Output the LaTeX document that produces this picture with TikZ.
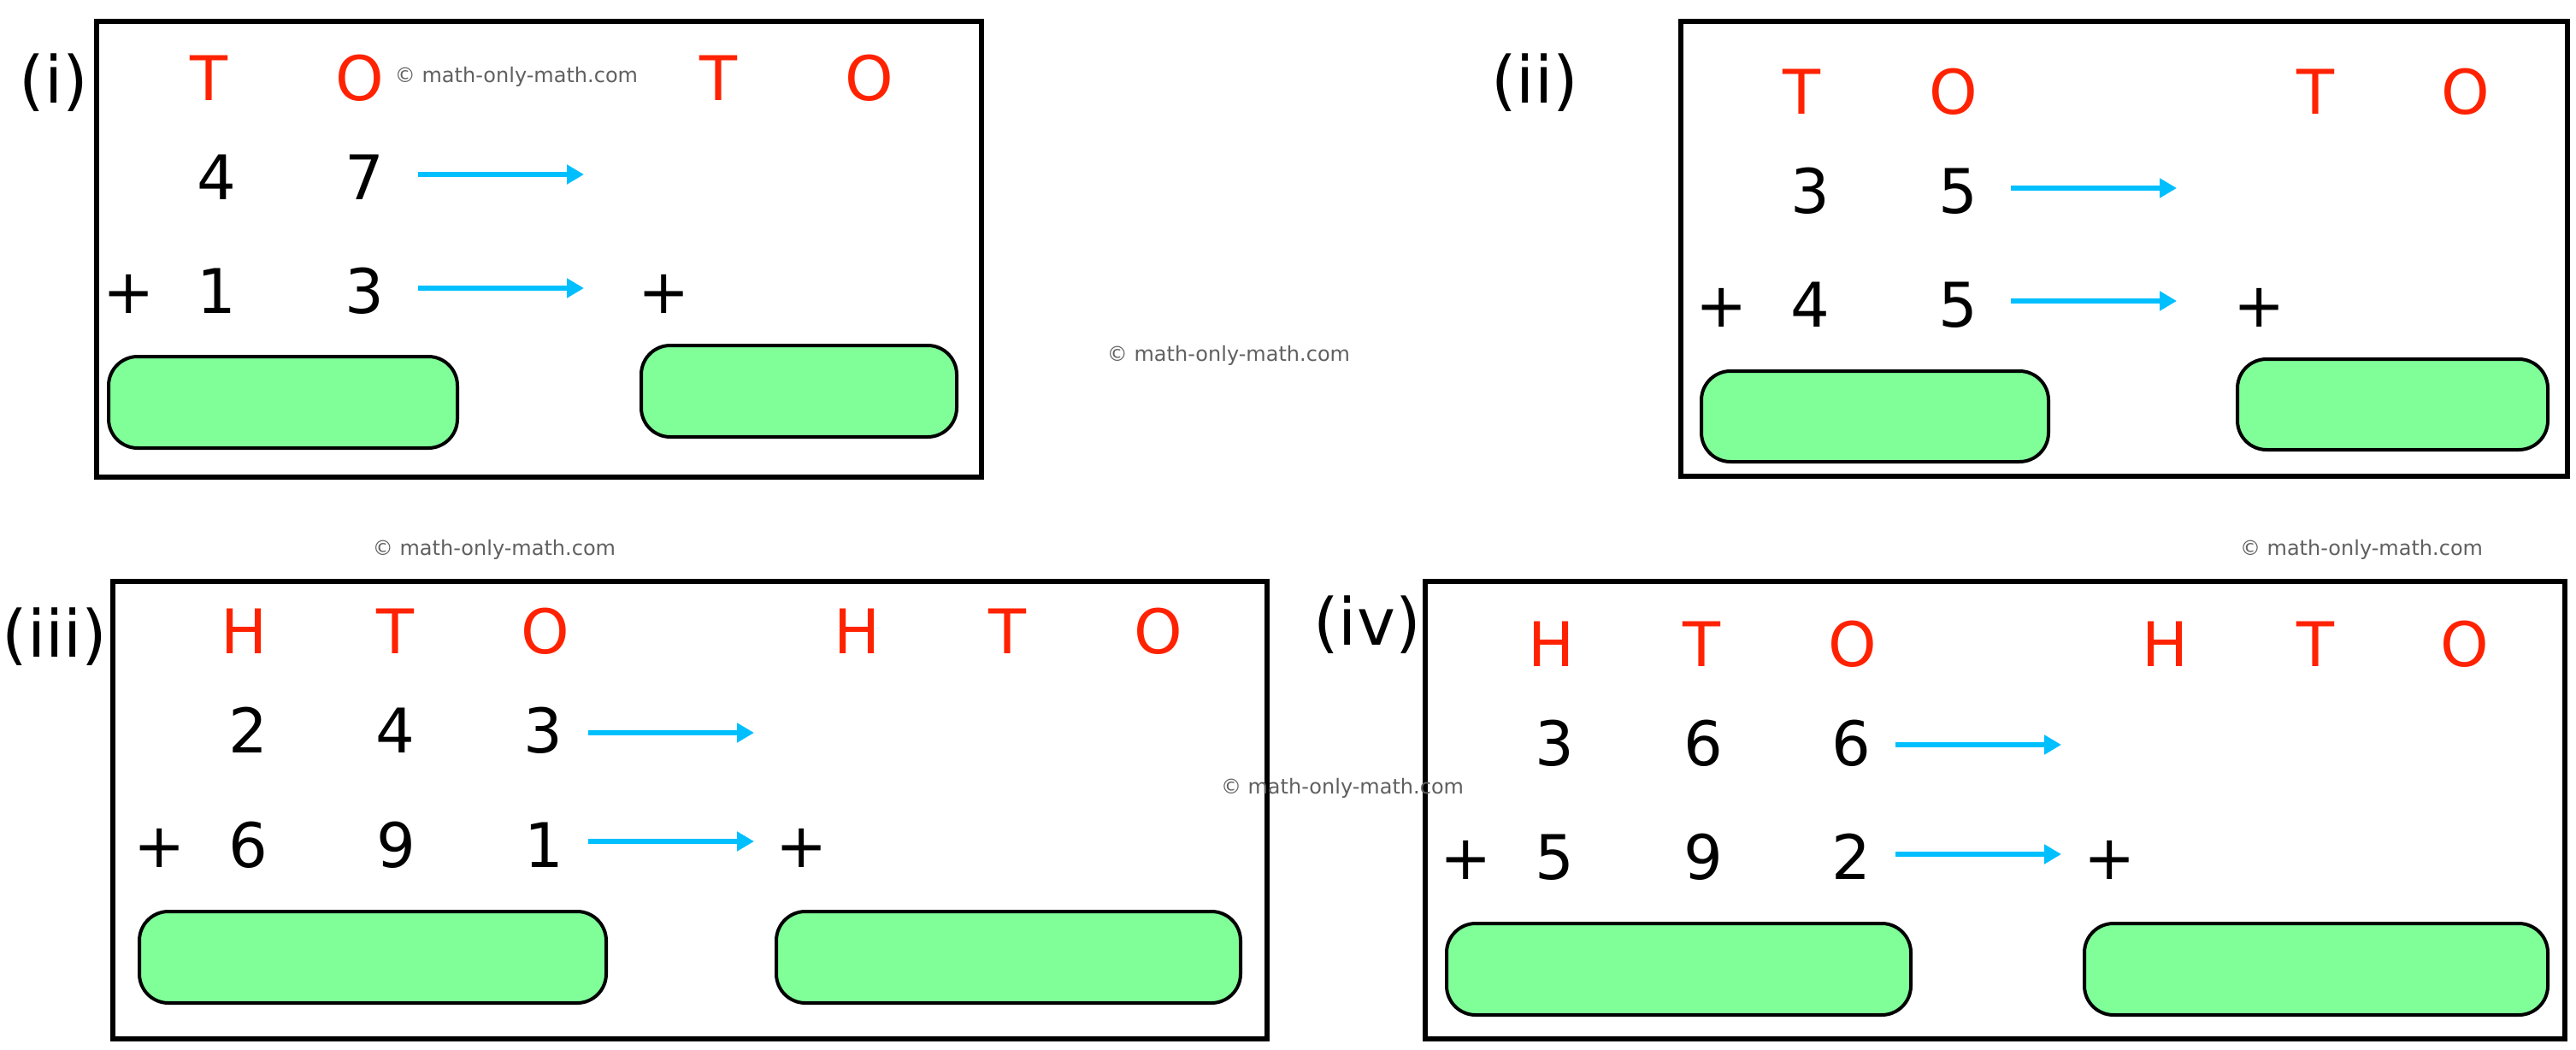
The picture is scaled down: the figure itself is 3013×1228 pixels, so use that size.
\documentclass[tikz,border=0pt]{standalone}
\usepackage{fontspec}
\setmainfont{DejaVu Sans}
\usetikzlibrary{arrows.meta}
\definecolor{hdrred}{RGB}{255,34,0}
\definecolor{arrblue}{RGB}{0,191,255}
\definecolor{boxgreen}{RGB}{128,255,153}
\definecolor{wmgrey}{RGB}{96,96,96}
\tikzset{
  panel/.style={draw=black, line width=6pt},
  answer/.style={draw=black, line width=4pt, fill=boxgreen, rounded corners=34pt},
  dig/.style={anchor=base, inner sep=0pt, font=\fontsize{72}{80}\selectfont},
  hdr/.style={dig, text=hdrred},
  lbl/.style={anchor=base, inner sep=0pt, font=\fontsize{76}{84}\selectfont},
  wm/.style={anchor=base, inner sep=0pt, text=wmgrey, font=\fontsize{24}{28}\selectfont},
  arr/.style={draw=arrblue, line width=6pt, -{Triangle[length=20pt,width=22pt]}}
}
\begin{document}
\begin{tikzpicture}[x=1pt,y=-1pt]
\useasboundingbox (0,0) rectangle (3013,1228);
\fill[white] (0,0) rectangle (3013,1228);

% ---------- panel (i)
\draw[panel] (113,25) rectangle (1148,558);
\node[lbl] (la) at (63,121) {(i)};
\node[hdr] (a-T1) at (244,118) {T};
\node[hdr] (a-O1) at (421,118) {O};
\node[hdr] (a-T2) at (840,118) {T};
\node[hdr] (a-O2) at (1017,118) {O};
\node[dig] (a-r1a) at (253,233) {4};
\node[dig] (a-r1b) at (426,233) {7};
\node[dig] (a-p) at (151,366) {+};
\node[dig] (a-r2a) at (253,366) {1};
\node[dig] (a-r2b) at (426,366) {3};
\node[dig] (a-p2) at (777,366) {+};
\coordinate (a-s1) at (489,204); \coordinate (a-e1) at (683,204);
\coordinate (a-s2) at (489,337); \coordinate (a-e2) at (683,337);
\draw[arr] (a-s1) -- (a-e1);
\draw[arr] (a-s2) -- (a-e2);
\draw[answer] (127,417) rectangle (535,524);
\draw[answer] (750,404) rectangle (1119,511);
\node[wm] (wm1) at (604,97) {© math-only-math.com};

% ---------- panel (ii)
\draw[panel] (1966,25) rectangle (3003,557);
\node[lbl] (lb) at (1795,121) {(ii)};
\node[hdr] (b-T1) at (2107,134) {T};
\node[hdr] (b-O1) at (2285,134) {O};
\node[hdr] (b-T2) at (2708,134) {T};
\node[hdr] (b-O2) at (2884,134) {O};
\node[dig] (b-r1a) at (2117,249) {3};
\node[dig] (b-r1b) at (2290,249) {5};
\node[dig] (b-p) at (2014,382) {+};
\node[dig] (b-r2a) at (2117,382) {4};
\node[dig] (b-r2b) at (2290,382) {5};
\node[dig] (b-p2) at (2643,382) {+};
\coordinate (b-s1) at (2352,220); \coordinate (b-e1) at (2546,220);
\coordinate (b-s2) at (2352,352); \coordinate (b-e2) at (2546,352);
\draw[arr] (b-s1) -- (b-e1);
\draw[arr] (b-s2) -- (b-e2);
\draw[answer] (1990,434) rectangle (2396,540);
\draw[answer] (2617,420) rectangle (2980,526);
\node[wm] (wm2) at (1437,422) {© math-only-math.com};

% ---------- panel (iii)
\node[wm] (wm3) at (578,649) {© math-only-math.com};
\draw[panel] (132,680) rectangle (1482,1215);
\node[lbl] (lc) at (64,768) {(iii)};
\node[hdr] (c-H1) at (286,764) {H};
\node[hdr] (c-T1) at (462,764) {T};
\node[hdr] (c-O1) at (638,764) {O};
\node[hdr] (c-H2) at (1003,764) {H};
\node[hdr] (c-T2) at (1178,764) {T};
\node[hdr] (c-O2) at (1355,764) {O};
\node[dig] (c-r1a) at (290,880) {2};
\node[dig] (c-r1b) at (462,880) {4};
\node[dig] (c-r1c) at (635,880) {3};
\node[dig] (c-p) at (187,1014) {+};
\node[dig] (c-r2a) at (290,1014) {6};
\node[dig] (c-r2b) at (463,1014) {9};
\node[dig] (c-r2c) at (636,1014) {1};
\node[dig] (c-p2) at (938,1014) {+};
\coordinate (c-s1) at (688,857); \coordinate (c-e1) at (882,857);
\coordinate (c-s2) at (688,984); \coordinate (c-e2) at (882,984);
\draw[arr] (c-s1) -- (c-e1);
\draw[arr] (c-s2) -- (c-e2);
\draw[answer] (163,1066) rectangle (709,1173);
\draw[answer] (908,1066) rectangle (1451,1173);

% ---------- panel (iv)
\node[wm] (wm4) at (2762,649) {© math-only-math.com};
\draw[panel] (1667,680) rectangle (3000,1215);
\node[lbl] (ld) at (1599,754) {(iv)};
\node[hdr] (d-H1) at (1815,779) {H};
\node[hdr] (d-T1) at (1990,779) {T};
\node[hdr] (d-O1) at (2167,779) {O};
\node[hdr] (d-H2) at (2533,779) {H};
\node[hdr] (d-T2) at (2708,779) {T};
\node[hdr] (d-O2) at (2883,779) {O};
\node[dig] (d-r1a) at (1818,895) {3};
\node[dig] (d-r1b) at (1992,895) {6};
\node[dig] (d-r1c) at (2165,895) {6};
\node[dig] (d-p) at (1715,1028) {+};
\node[dig] (d-r2a) at (1818,1028) {5};
\node[dig] (d-r2b) at (1992,1028) {9};
\node[dig] (d-r2c) at (2165,1028) {2};
\node[dig] (d-p2) at (2468,1028) {+};
\coordinate (d-s1) at (2217,871); \coordinate (d-e1) at (2411,871);
\coordinate (d-s2) at (2217,999); \coordinate (d-e2) at (2411,999);
\draw[arr] (d-s1) -- (d-e1);
\draw[arr] (d-s2) -- (d-e2);
\draw[answer] (1692,1080) rectangle (2235,1187);
\draw[answer] (2438,1080) rectangle (2980,1187);
\node[wm] (wm5) at (1570,928) {© math-only-math.com};
\end{tikzpicture}
\end{document}
